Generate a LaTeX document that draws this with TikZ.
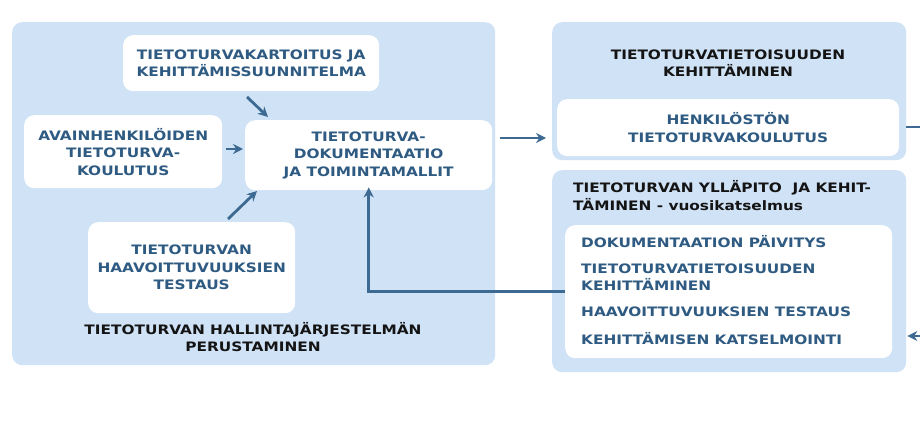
\documentclass[tikz,border=0pt]{standalone}
\usepackage{fontspec}
\newfontfamily\dv{DejaVu Sans}[FakeStretch=1.18]
\usetikzlibrary{arrows.meta,calc}
\definecolor{panel}{HTML}{CFE2F6}
\definecolor{ink}{HTML}{2F5B82}
\definecolor{arrowc}{HTML}{3C6A92}
\definecolor{dark}{HTML}{141414}
\begin{document}
\begin{tikzpicture}[x=1pt,y=-1pt,
  panelbox/.style={fill=panel, rounded corners=10pt, draw=none, inner sep=0pt, anchor=north west},
  whitebox/.style={fill=white, rounded corners=10pt, draw=none, inner sep=0pt, anchor=north west,
     font=\dv\bfseries\fontsize{13}{17.5}\selectfont, text=ink, align=center},
  boxtext/.style={font=\dv\bfseries\fontsize{13}{17}\selectfont, text=ink, align=left, inner sep=0pt, anchor=west},
  titletext/.style={font=\dv\bfseries\fontsize{13}{17.5}\selectfont, text=dark, inner sep=0pt},
  arr/.style={draw=arrowc, line width=2.8pt, -{Stealth[length=10pt,width=10pt]}},
  stub/.style={draw=arrowc, line width=2.8pt},
  ]
\useasboundingbox[fill=white] (0,0) rectangle (920,443);

% panels
\node[panelbox, minimum width=483pt, minimum height=343pt] (left) at (12,22) {};
\node[panelbox, minimum width=354pt, minimum height=138pt] (rt) at (552,22) {};
\node[panelbox, minimum width=354pt, minimum height=202pt] (rb) at (552,170) {};

% left panel boxes
\node[whitebox, minimum width=256pt, minimum height=56pt] (kart) at (123,35)
  {TIETOTURVAKARTOITUS JA\\KEHITTÄMISSUUNNITELMA};
\node[whitebox, minimum width=198pt, minimum height=73pt] (avain) at (24,115)
  {AVAINHENKILÖIDEN\\TIETOTURVA-\\KOULUTUS};
\node[whitebox, minimum width=247pt, minimum height=70pt] (doc) at (245,120)
  {TIETOTURVA-\\DOKUMENTAATIO\\JA TOIMINTAMALLIT};
\node[whitebox, minimum width=207pt, minimum height=91pt] (test) at (88,222)
  {TIETOTURVAN\\HAAVOITTUVUUKSIEN\\TESTAUS};
\node[titletext, align=center] (lefttitle) at (253,337)
  {TIETOTURVAN HALLINTAJÄRJESTELMÄN\\PERUSTAMINEN};

% right top panel
\node[titletext, align=center] (rttitle) at (728,63)
  {TIETOTURVATIETOISUUDEN\\KEHITTÄMINEN};
\node[whitebox, minimum width=342pt, minimum height=57pt] (henk) at (557,99)
  {HENKILÖSTÖN\\TIETOTURVAKOULUTUS};

% right bottom panel
\node[titletext, align=left, anchor=west] (rbtitle) at (573,195.5)
  {TIETOTURVAN YLLÄPITO\ \ JA KEHIT-\\TÄMINEN - vuosikatselmus};
\node[whitebox, minimum width=327pt, minimum height=133pt] (rbbox) at (565,225) {};
\node[boxtext] (i1) at (581,242) {DOKUMENTAATION PÄIVITYS};
\node[boxtext] (i2) at (581,277.5) {TIETOTURVATIETOISUUDEN\\KEHITTÄMINEN};
\node[boxtext] (i3) at (581,312) {HAAVOITTUVUUKSIEN TESTAUS};
\node[boxtext] (i4) at (581,339) {KEHITTÄMISEN KATSELMOINTI};

% connectors
\coordinate (k0) at (247,97);
\coordinate (k1) at (268,117);
\draw[arr] (k0) -- (k1);
\draw[arr] ([xshift=4pt]avain.east |- 0,149) -- ([xshift=-2pt]doc.west |- 0,149);
\coordinate (t0) at (228,219);
\coordinate (t1) at (257,191);
\draw[arr] (t0) -- (t1);
\coordinate (d0) at (500,138);
\draw[arr] (d0) -- ([xshift=-6pt]rt.west |- d0);
\draw[arr] (rbbox.west) -| ([yshift=3pt]doc.south);
\coordinate (r0) at (920,127);
\draw[stub] (rt.east |- r0) -- (r0);
\coordinate (r1) at (920,336);
\draw[arr] (r1) -- ([xshift=1pt]rb.east |- r1);
\end{tikzpicture}
\end{document}
